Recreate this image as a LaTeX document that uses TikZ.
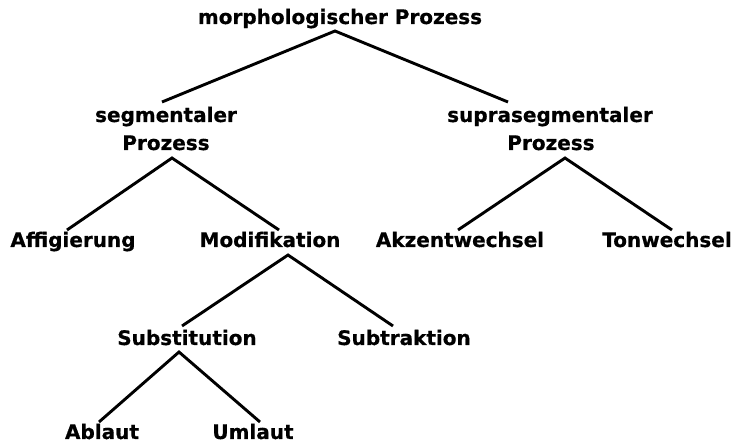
\documentclass[tikz,border=0pt]{standalone}
\usepackage{fontspec}
\setmainfont{DejaVu Sans}[BoldFeatures={FakeBold=0.6}]
\begin{document}
\begin{tikzpicture}[x=1pt,y=-1pt,
  lbl/.style={anchor=base,inner sep=0pt,font=\fontsize{20}{24}\bfseries\selectfont},
  edge/.style={line width=2.9pt,line cap=butt}]
\useasboundingbox (0,0) rectangle (737,443);
\node[lbl] (top) at (340,24) {morphologischer Prozess};
\node[lbl] (seg) at (166,122) {segmentaler};
\node[lbl] (segP) at (166,150) {Prozess};
\node[lbl] (supra) at (550,122) {suprasegmentaler};
\node[lbl] (supraP) at (551,150) {Prozess};
\node[lbl] (aff) at (73,247) {Affigierung};
\node[lbl] (mod) at (270,247) {Modifikation};
\node[lbl] (akz) at (460,247) {Akzentwechsel};
\node[lbl] (ton) at (667,247) {Tonwechsel};
\node[lbl] (sub) at (187,345) {Substitution};
\node[lbl] (subtr) at (404,345) {Subtraktion};
\node[lbl] (abl) at (102,439) {Ablaut};
\node[lbl] (uml) at (253,439) {Umlaut};
\draw[edge] ([shift={(-4,-20)}]seg.base) -- ([shift={(-5,7)}]top.base) -- ([shift={(-42,-20)}]supra.base);
\draw[edge] ([shift={(-6,-17)}]aff.base) -- ([shift={(6,8)}]segP.base) -- ([shift={(9,-17)}]mod.base);
\draw[edge] ([shift={(-2,-17)}]akz.base) -- ([shift={(14,8)}]supraP.base) -- ([shift={(5,-17)}]ton.base);
\draw[edge] ([shift={(-5,-19)}]sub.base) -- ([shift={(18,8)}]mod.base) -- ([shift={(-11,-19)}]subtr.base);
\draw[edge] ([shift={(-3,-17)}]abl.base) -- ([shift={(-8,7)}]sub.base) -- ([shift={(7,-17)}]uml.base);
\end{tikzpicture}
\end{document}
